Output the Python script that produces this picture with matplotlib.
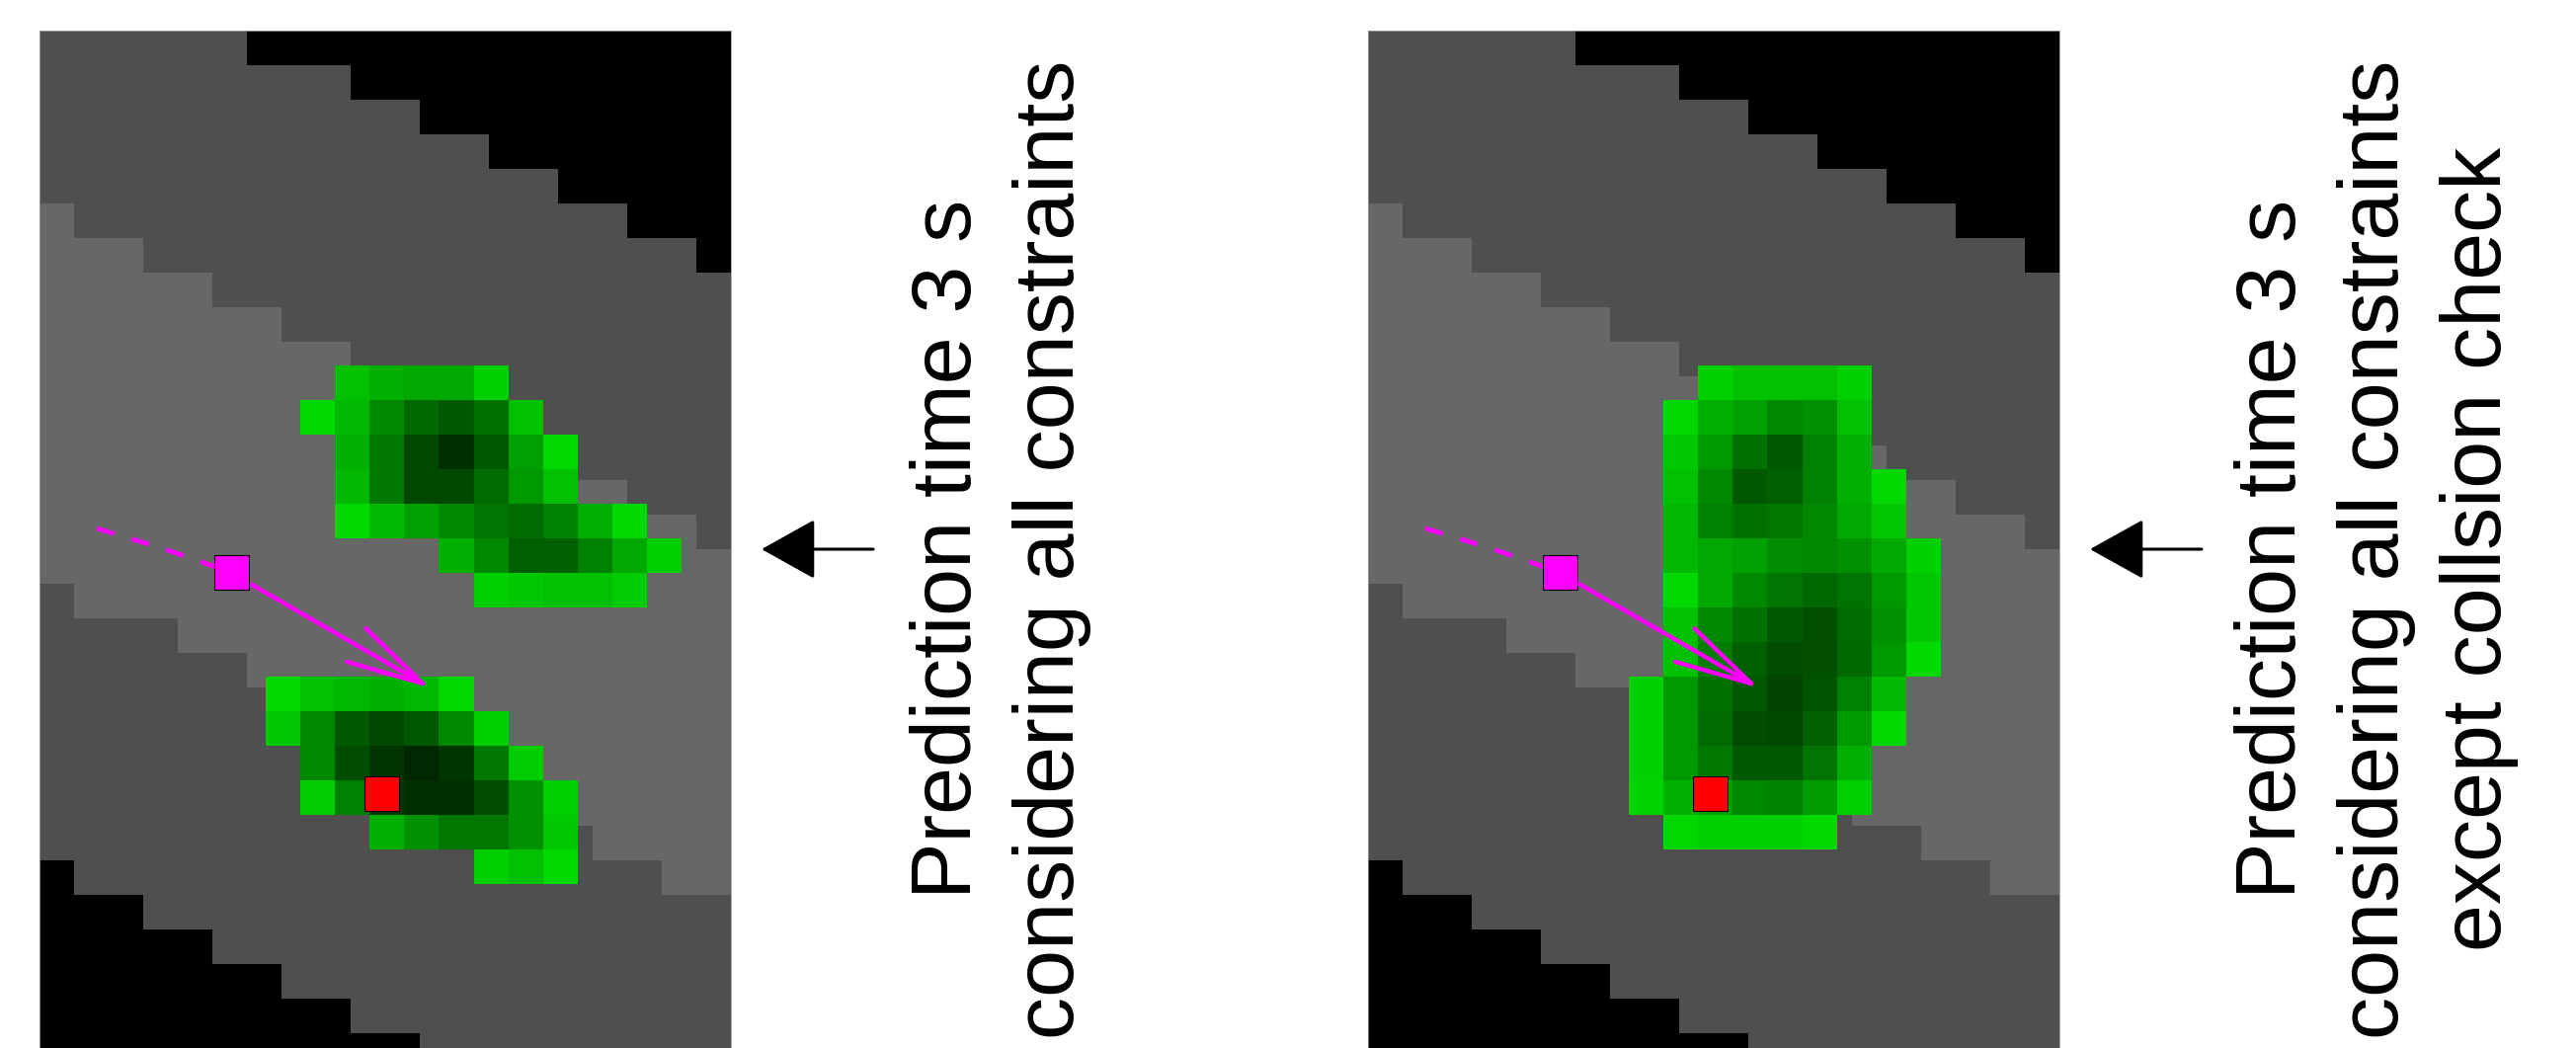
import numpy as np
import matplotlib.pyplot as plt
from matplotlib.colors import ListedColormap
from matplotlib.patches import Rectangle, FancyArrowPatch

plt.rcParams['font.family'] = ['Liberation Sans', 'DejaVu Sans']

W, H, DPI = 2608, 1061, 100

# ---- map data (cell units, 30 rows x 20 cols, row 0 at top) ----
N_ROWS, N_COLS = 30, 20
top_black_from = [6, 9, 11, 13, 15, 17, 19]                       # rows 0..6
light_upper_to = [0, 0, 0, 0, 0, 1, 3, 5, 7, 9, 11, 13, 15, 17, 19] + [20] * 15
dark_lower_to = [0] * 16 + [1, 4, 6, 8, 10, 12, 14, 16, 18] + [20] * 5
bottom_black_to = [0] * 24 + [1, 3, 5, 7, 9, 11]
map_colors = ['#000000', '#4f4f4f', '#676767']

# green prediction grid is shifted against the map grid
green_x0, green_y0 = 0.54, 0.69

# (row, first column, green intensities)
green_all = [
    (9, 8, [0xc0, 0xb0, 0xa8, 0xaa, 0xd0]),
    (10, 7, [0xd8, 0xb8, 0x88, 0x68, 0x58, 0x70, 0xc0]),
    (11, 8, [0xb0, 0x78, 0x48, 0x30, 0x58, 0xa0, 0xd8]),
    (12, 8, [0xb8, 0x78, 0x48, 0x48, 0x6c, 0x98, 0xc0]),
    (13, 8, [0xd8, 0xb8, 0xa0, 0x88, 0x74, 0x6c, 0x80, 0xb0, 0xd8]),
    (14, 11, [0xb0, 0x88, 0x60, 0x60, 0x80, 0xa8, 0xd0]),
    (15, 12, [0xd0, 0xc8, 0xc0, 0xc0, 0xcc]),
    (18, 6, [0xd8, 0xc0, 0xb8, 0xb0, 0xb8, 0xd8]),
    (19, 6, [0xc8, 0x88, 0x58, 0x48, 0x58, 0x88, 0xd0]),
    (20, 7, [0x88, 0x4c, 0x34, 0x28, 0x34, 0x78, 0xcc]),
    (21, 7, [0xcc, 0x80, 0x38, 0x30, 0x30, 0x4c, 0x90, 0xd0]),
    (22, 9, [0xb0, 0x90, 0x78, 0x78, 0x90, 0xc8]),
    (23, 12, [0xd0, 0xc0, 0xd8]),
]
green_no_collision = [
    (9, 9, [0xd0, 0xc0, 0xc0, 0xc0, 0xd0]),
    (10, 8, [0xd8, 0xb0, 0xa0, 0x88, 0x90, 0xc0]),
    (11, 8, [0xc8, 0x98, 0x70, 0x58, 0x80, 0xb0]),
    (12, 8, [0xc0, 0x88, 0x58, 0x60, 0x80, 0xb0, 0xd8]),
    (13, 8, [0xb8, 0x80, 0x70, 0x78, 0x88, 0xa8, 0xc8]),
    (14, 8, [0xb8, 0xa8, 0xa0, 0x8c, 0x88, 0x90, 0xa8, 0xd0]),
    (15, 8, [0xd8, 0xa8, 0x88, 0x74, 0x68, 0x74, 0x98, 0xc8]),
    (16, 8, [0xc0, 0x88, 0x70, 0x58, 0x50, 0x6c, 0x90, 0xc8]),
    (17, 8, [0xc0, 0x7c, 0x60, 0x4c, 0x50, 0x68, 0x98, 0xd8]),
    (18, 7, [0xd0, 0x98, 0x70, 0x58, 0x44, 0x54, 0x80, 0xb8]),
    (19, 7, [0xd0, 0x98, 0x6c, 0x4c, 0x48, 0x60, 0x98, 0xd8]),
    (20, 7, [0xd0, 0x98, 0x78, 0x58, 0x58, 0x74, 0xb0]),
    (21, 7, [0xd4, 0xb0, 0xa0, 0x88, 0x84, 0x9c, 0xd0]),
    (22, 8, [0xd8, 0xd0, 0xd0, 0xd0, 0xd8]),
]

# vehicle history, current position, velocity arrow tip, true future position
hist_x = [1.65, 3.2, 4.3, 5.54]
hist_y = [14.39, 14.86, 15.22, 15.67]
ego = (5.54, 15.67)
vel_tip = (11.31, 19.01)
truth = (9.9, 22.06)

labels = ['Prediction time 3 s\nconsidering all constraints',
          'Prediction time 3 s\nconsidering all constraints\nexcept collsion check']

# ---- layout (pixels) ----
CELL = 35.0
TOP = 31.3
panel_x = [40.2, 1385.2]
text_x = [921, 2262]
arrow_tail = [884, 2229]
arrow_tip = [771, 2116]
mid_y = 556

# build gray map
gray = np.ones((N_ROWS, N_COLS), dtype=int)
for r in range(N_ROWS):
    gray[r, :light_upper_to[r]] = 2
    gray[r, :dark_lower_to[r]] = 1
    if r < len(top_black_from):
        gray[r, top_black_from[r]:] = 0
    gray[r, :bottom_black_to[r]] = 0


def green_layer(rows):
    img = np.zeros((N_ROWS, N_COLS, 4))
    for r, c0, vals in rows:
        for k, v in enumerate(vals):
            img[r, c0 + k] = (0, v / 255, 0, 1)
    return img


fig = plt.figure(figsize=(W / DPI, H / DPI), dpi=DPI)


def draw_panel(x0, green_rows):
    ax = fig.add_axes([x0 / W, (H - TOP - N_ROWS * CELL) / H,
                       N_COLS * CELL / W, N_ROWS * CELL / H])
    ax.imshow(gray, cmap=ListedColormap(map_colors), vmin=0, vmax=2,
              extent=(0, N_COLS, N_ROWS, 0), interpolation='nearest', aspect='auto')
    ax.imshow(green_layer(green_rows), interpolation='nearest', aspect='auto',
              extent=(green_x0, green_x0 + N_COLS, green_y0 + N_ROWS, green_y0))
    ax.plot(hist_x, hist_y, color='#ff00ff', lw=3.4, dashes=(3.9, 3.9))
    ax.annotate('', xy=vel_tip, xytext=ego,
                arrowprops=dict(arrowstyle='->,head_length=1.12,head_width=0.28',
                                mutation_scale=50, color='#ff00ff', lw=3.2,
                                shrinkA=0, shrinkB=0))
    ax.add_patch(Rectangle((ego[0] - 0.5, ego[1] - 0.5), 1, 1,
                           fc='#ff00ff', ec='black', lw=0.8, zorder=5))
    ax.add_patch(Rectangle((truth[0] - 0.5, truth[1] - 0.5), 1, 1,
                           fc='#ff0000', ec='black', lw=0.8, zorder=5))
    ax.set_xlim(0, N_COLS)
    ax.set_ylim(N_ROWS, 0)
    ax.set_xticks([])
    ax.set_yticks([])
    for s in ax.spines.values():
        s.set_color('#999999')
        s.set_linewidth(0.6)
    return ax


draw_panel(panel_x[0], green_all)
draw_panel(panel_x[1], green_no_collision)

for i in range(2):
    fig.add_artist(FancyArrowPatch(
        posA=(arrow_tail[i] / W, 1 - mid_y / H), posB=(arrow_tip[i] / W, 1 - mid_y / H),
        transform=fig.transFigure, arrowstyle='-|>,head_length=0.7,head_width=0.39',
        mutation_scale=50, color='black', lw=2.2, shrinkA=0, shrinkB=0))
    fig.text(text_x[i] / W, 1 - mid_y / H, labels[i], rotation=90,
             ha='left', va='center', multialignment='center',
             fontsize=62, linespacing=1.39)

fig.savefig('out.png', dpi=DPI)
